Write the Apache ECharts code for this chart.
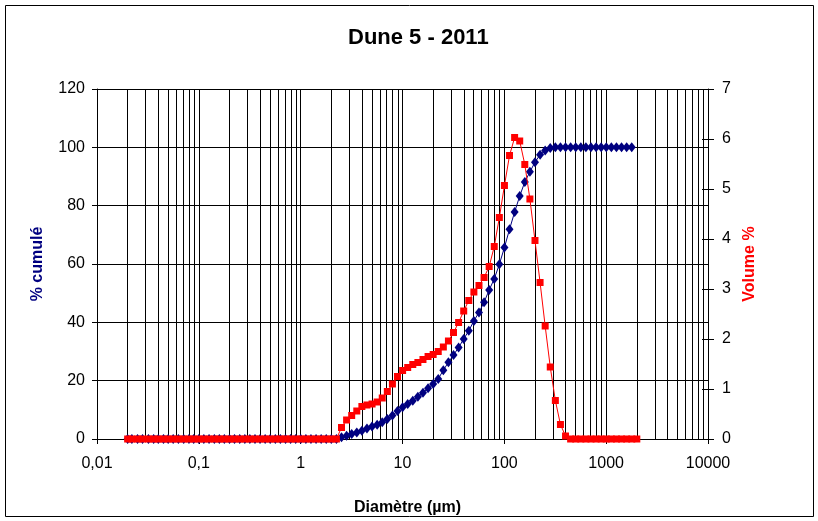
<!DOCTYPE html>
<html>
<head>
<meta charset="utf-8">
<title>Dune 5 - 2011</title>
<script src="https://cdn.jsdelivr.net/npm/echarts@6/dist/echarts.min.js"></script>
<style>
  html, body { margin: 0; padding: 0; background: #fff; }
  #chart { width: 818px; height: 521px; }
</style>
</head>
<body>
<div id="chart"></div>
<script>
// Particle size classes (µm), laser diffraction grid 0.02 – 2000 µm
const sizes = [
  0.020, 0.022, 0.025, 0.028, 0.032, 0.036, 0.040, 0.045, 0.050, 0.056,
  0.063, 0.071, 0.080, 0.089, 0.100, 0.112, 0.126, 0.142, 0.159, 0.178,
  0.200, 0.224, 0.252, 0.283, 0.317, 0.356, 0.399, 0.448, 0.502, 0.564,
  0.632, 0.710, 0.796, 0.893, 1.002, 1.125, 1.262, 1.416, 1.589, 1.783,
  2.000, 2.244, 2.518, 2.825, 3.170, 3.557, 3.991, 4.477, 5.024, 5.637,
  6.325, 7.096, 7.962, 8.934, 10.024, 11.247, 12.619, 14.159, 15.887, 17.825,
  20.000, 22.440, 25.179, 28.251, 31.698, 35.566, 39.905, 44.774, 50.238, 56.368,
  63.246, 70.963, 79.621, 89.337, 100.237, 112.468, 126.191, 141.589, 158.866, 178.250,
  200.000, 224.404, 251.785, 282.508, 316.979, 355.656, 399.052, 447.744, 502.377, 563.677,
  632.456, 709.627, 796.214, 893.367, 1002.374, 1124.683, 1261.915, 1415.892, 1588.656, 1782.502,
  2000.000
];

// Cumulative volume (%) for the first 100 classes
const cumul = [
  0, 0, 0, 0, 0, 0, 0, 0, 0, 0,
  0, 0, 0, 0, 0, 0, 0, 0, 0, 0,
  0, 0, 0, 0, 0, 0, 0, 0, 0, 0,
  0, 0, 0, 0, 0, 0, 0, 0, 0, 0,
  0, 0, 0.6, 1.15, 1.7, 2.25, 2.85, 3.6, 4.3, 4.9,
  5.75, 6.9, 8.05, 9.6, 10.9, 12.0, 13.1, 14.5, 15.9, 17.4,
  18.9, 20.6, 23.6, 26.3, 28.8, 31.4, 34.3, 37.1, 40.5, 43.4,
  46.9, 51.1, 54.9, 59.9, 65.7, 71.9, 77.8, 83.3, 88.1, 91.6,
  94.9, 97.5, 98.9, 99.8, 100, 100, 100, 100, 100, 100,
  100, 100, 100, 100, 100, 100, 100, 100, 100, 100
];

// Volume (%) per size class
const volume = [
  0, 0, 0, 0, 0, 0, 0, 0, 0, 0,
  0, 0, 0, 0, 0, 0, 0, 0, 0, 0,
  0, 0, 0, 0, 0, 0, 0, 0, 0, 0,
  0, 0, 0, 0, 0, 0, 0, 0, 0, 0,
  0, 0, 0.23, 0.38, 0.47, 0.56, 0.65, 0.68, 0.70, 0.74,
  0.82, 0.95, 1.10, 1.25, 1.37, 1.43, 1.49, 1.53, 1.59, 1.65,
  1.69, 1.75, 1.84, 1.96, 2.13, 2.33, 2.56, 2.77, 2.94, 3.07,
  3.23, 3.45, 3.85, 4.43, 5.07, 5.67, 6.03, 5.96, 5.49, 4.80,
  3.97, 3.13, 2.26, 1.44, 0.77, 0.29, 0.06, 0, 0, 0,
  0, 0, 0, 0, 0, 0, 0, 0, 0, 0,
  0
];

const xTickLabels = ['0,01', '0,1', '1', '10', '100', '1000', '10000'];

const FONT = "'Liberation Sans', Arial, sans-serif";

// Intermediate log gridlines (2..9 within each decade)
const minorLines = [];
for (let k = -2; k <= 3; k++) {
  for (let m = 2; m <= 9; m++) {
    minorLines.push({ xAxis: m * Math.pow(10, k) });
  }
}

const chart = echarts.init(document.getElementById('chart'), null, { renderer: 'canvas' });

const option = {
  animation: false,
  backgroundColor: '#fff',
  title: {
    text: 'Dune 5 - 2011',
    left: 343,
    top: 22,
    textStyle: { fontFamily: FONT, fontWeight: 'bold', fontSize: 22, color: '#000' }
  },
  graphic: [{
    type: 'rect',
    shape: { x: 5.5, y: 5.5, width: 808, height: 511 },
    style: { fill: 'none', stroke: '#000', lineWidth: 1 },
    silent: true,
    z: -1
  }],
  grid: { left: 97, right: 110, top: 89, bottom: 82 },
  xAxis: {
    type: 'log',
    logBase: 10,
    min: 0.01,
    max: 10000,
    name: 'Diamètre (µm)',
    nameLocation: 'middle',
    nameGap: 61,
    nameTextStyle: { fontFamily: FONT, fontWeight: 'bold', fontSize: 16, color: '#000', padding: [0, 0, 0, 10] },
    axisLine: { show: true, lineStyle: { color: '#000', width: 1 } },
    axisTick: { show: true, length: 5, lineStyle: { color: '#000' } },
    axisLabel: {
      margin: 17,
      fontFamily: FONT, fontSize: 16, color: '#000',
      formatter: function (v) {
        return xTickLabels[Math.round(Math.log10(v)) + 2];
      }
    },
    splitLine: { show: true, lineStyle: { color: '#000', width: 1 } }
  },
  yAxis: [
    {
      type: 'value',
      min: 0, max: 120, interval: 20,
      position: 'left',
      name: '% cumulé',
      nameLocation: 'middle',
      nameRotate: 90,
      nameGap: 51,
      nameTextStyle: { fontFamily: FONT, fontWeight: 'bold', fontSize: 16, color: '#000080' },
      axisLine: { show: true, lineStyle: { color: '#000', width: 1 } },
      axisTick: { show: true, length: 5, lineStyle: { color: '#000' } },
      axisLabel: { margin: 12, fontFamily: FONT, fontSize: 16, color: '#000' },
      splitLine: { show: true, lineStyle: { color: '#000', width: 1 } }
    },
    {
      type: 'value',
      min: 0, max: 7, interval: 1,
      position: 'right',
      name: 'Volume %',
      nameLocation: 'middle',
      nameRotate: 90,
      nameGap: 32,
      nameTextStyle: { fontFamily: FONT, fontWeight: 'bold', fontSize: 16, color: '#ff0000' },
      axisLine: { show: true, lineStyle: { color: '#000', width: 1 } },
      axisTick: { show: true, length: 6, lineStyle: { color: '#000' } },
      axisLabel: { margin: 14, fontFamily: FONT, fontSize: 16, color: '#000' },
      splitLine: { show: false }
    },
    {
      // inner half of the cross ticks on the right axis
      type: 'value',
      min: 0, max: 7, interval: 1,
      position: 'right',
      axisLine: { show: false },
      axisTick: { show: true, inside: true, length: 6, lineStyle: { color: '#000' } },
      axisLabel: { show: false },
      splitLine: { show: false }
    }
  ],
  series: [
    {
      name: '% cumulé',
      type: 'line',
      yAxisIndex: 0,
      data: cumul.map((c, i) => [sizes[i], c]),
      symbol: 'diamond',
      symbolSize: [8, 10],
      itemStyle: { color: '#000080' },
      lineStyle: { color: '#000080', width: 1 },
      z: 3,
      markLine: {
        silent: true,
        symbol: ['none', 'none'],
        label: { show: false },
        lineStyle: { color: '#000', width: 1, type: 'solid' },
        data: minorLines,
        z: 1
      }
    },
    {
      name: 'Volume %',
      type: 'line',
      yAxisIndex: 1,
      data: volume.map((v, i) => [sizes[i], v]),
      symbol: 'rect',
      symbolSize: 7,
      itemStyle: { color: '#ff0000' },
      lineStyle: { color: '#ff0000', width: 1 },
      z: 4
    }
  ]
};

chart.setOption(option);
</script>
</body>
</html>
